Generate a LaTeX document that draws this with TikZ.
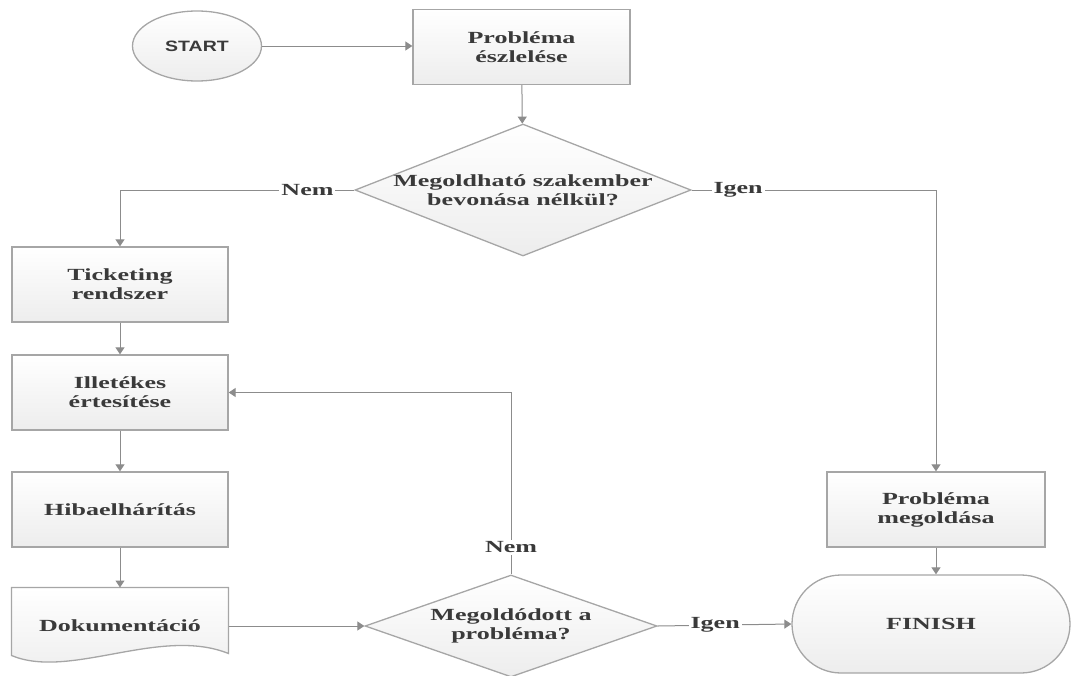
\documentclass[tikz,border=0pt]{standalone}
\usepackage{fontspec}
\usetikzlibrary{calc,arrows.meta,shapes.geometric}
\newfontfamily\flowfont{Liberation Serif}[FakeStretch=1.53]
\newfontfamily\flowsans{Liberation Sans}[FakeStretch=1.3]
\definecolor{fline}{HTML}{8C8C8C}
\definecolor{fedge}{HTML}{A6A6A6}
\definecolor{ftext}{HTML}{3A3A3A}
\definecolor{ffill}{HTML}{EDEDED}

\begin{document}
\begin{tikzpicture}[x=1pt, y=-1pt,
  >={Triangle[width=9pt,length=7pt]}, line width=1pt,
  base/.style={draw=fedge, line width=1.3pt, top color=white, bottom color=ffill,
    text=ftext, font=\flowfont\bfseries\fontsize{17}{19}\selectfont, align=center},
  procbox/.style={base, rectangle, minimum width=216pt, minimum height=75pt},
  decision/.style={base, diamond, inner xsep=-40pt, inner ysep=-10pt},
  flow/.style={draw=fline, ->},
  answer/.style={fill=white, text=ftext, inner sep=2pt,
    font=\flowfont\bfseries\fontsize{17}{19}\selectfont}]
  \useasboundingbox (0,0) rectangle (1071,675);

  % start and the first step
  \node[base, ellipse, minimum width=129pt, minimum height=70pt,
    font=\flowsans\bfseries\fontsize{15}{17}\selectfont] (start) at (197,46) {START};
  \node[procbox, minimum width=217pt] (detect) at (521.5,47) {Probléma\\észlelése};
  \node[decision, aspect=2.55, minimum width=336pt, minimum height=132pt] (q1)
    at (523,190) {Megoldható szakember\\bevonása nélkül?};

  % left column
  \node[procbox] (ticket) at (120,284.5) {Ticketing\\rendszer};
  \node[procbox] (notify) at (120,392.5) {Illetékes\\értesítése};
  \node[procbox] (fix)    at (120,509.5) {Hibaelhárítás};
  \node[minimum width=216pt, minimum height=76pt] (doc) at (120,626) {};
  \draw[fedge, line width=1.3pt, top color=white, bottom color=ffill]
    (doc.north west) -- ($(doc.south west)+(0,-9)$)
    .. controls (70,680) and (160,626) .. ($(doc.south east)+(0,-11)$)
    -- (doc.north east) -- cycle;
  \node[text=ftext, font=\flowfont\bfseries\fontsize{17}{19}\selectfont]
    (doctext) at (doc) {Dokumentáció};

  % check and the right column
  \node[decision, aspect=2.86, minimum width=292pt, minimum height=102pt] (q2)
    at (511,626) {Megoldódott a\\probléma?};
  \node[procbox, minimum width=218pt] (solve) at (936,509.5) {Probléma\\megoldása};
  \node[base, rectangle, rounded corners=49pt, minimum width=278pt,
    minimum height=98pt] (finish) at (931,624) {FINISH};

  % connectors
  \draw[flow] (start) -- (start -| detect.west);
  \draw[flow] (detect) -- (q1);
  \draw[flow] (q1.west) -| node[answer, pos=0.1] (no1) {Nem} (ticket.north);
  \draw[flow] (q1.east) -| node[answer, pos=0.095] (yes1) {Igen} (solve.north);
  \draw[flow] (ticket) -- (notify);
  \draw[flow] (notify) -- (fix);
  \draw[flow] (fix) -- (doc);
  \draw[flow] (doc.east) -- (q2.west);
  \draw[flow] (q2.east) -- node[answer, pos=0.43] (yes2) {Igen} (finish.west);
  \draw[flow] (q2.north) |- node[answer, pos=0.074] (no2) {Nem} (notify.east);
  \draw[flow] (solve.south) -- (solve.south |- finish.north);
\end{tikzpicture}
\end{document}
